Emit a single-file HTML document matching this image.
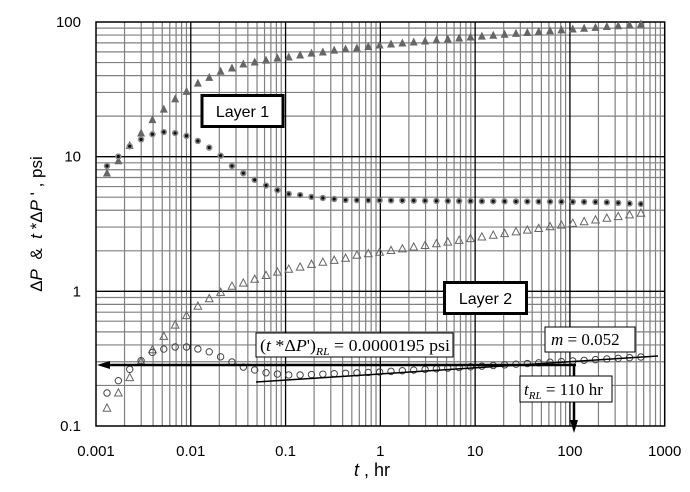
<!DOCTYPE html>
<html><head><meta charset="utf-8"><style>
body{margin:0;background:#fff;width:690px;height:487px;overflow:hidden}
svg text{font-family:"Liberation Sans",Arial,sans-serif}
.tm{font-family:"Liberation Serif","Times New Roman",serif}
</style></head><body>
<svg id="s" width="690" height="487" xmlns="http://www.w3.org/2000/svg"></svg>
<script>
var s=document.getElementById('s'),h='';
var L=96,R=664.7,T=22,B=426,dx=(R-L)/6,dy=(B-T)/3;
function X(v){return L+dx*(Math.log10(v)+3)}
function Y(v){return T+dy*(2-Math.log10(v))}
for(var d=-3;d<3;d++)for(var k=2;k<10;k++){var x=X(k*Math.pow(10,d));h+='<line x1="'+x+'" y1="'+T+'" x2="'+x+'" y2="'+B+'" stroke="#808080" stroke-width="1.2"/>';}
for(var d=-1;d<2;d++)for(var k=2;k<10;k++){var y=Y(k*Math.pow(10,d));h+='<line x1="'+L+'" y1="'+y+'" x2="'+R+'" y2="'+y+'" stroke="#808080" stroke-width="1.2"/>';}
for(var d=-2;d<3;d++){var x=X(Math.pow(10,d));h+='<line x1="'+x+'" y1="'+T+'" x2="'+x+'" y2="'+B+'" stroke="#000" stroke-width="1.3"/>';}
for(var d=0;d<2;d++){var y=Y(Math.pow(10,d));h+='<line x1="'+L+'" y1="'+y+'" x2="'+R+'" y2="'+y+'" stroke="#000" stroke-width="1.3"/>';}
h+='<rect x="'+L+'" y="'+T+'" width="'+(R-L)+'" height="'+(B-T)+'" fill="none" stroke="#000" stroke-width="1.5"/>';
function interp(t,x){for(var i=0;i<t.length-1;i++){if(x<=t[i+1][0]){var a=t[i],b=t[i+1];return a[1]+(b[1]-a[1])*(x-a[0])/(b[0]-a[0]);}}return t[t.length-1][1];}
var A=[[107,173],[119,160],[130,145],[142,132],[153,119],[164,109],[175,99],[187,91],[198,83],[210,77],[221,71],[232,68],[243,64],[255,62],[267,60],[277,58],[289,57],[300,55],[312,53],[323,52],[335,50],[346,49],[357,48],[380,45],[470,37],[560,30],[641,24]];
var Bc=[[107,166],[119,156],[130,146],[142,139],[153,134],[164,132],[175,133],[187,136],[198,141],[210,148],[221,156],[232,166],[243,173],[255,180],[267,186],[277,190],[289,194],[300,195],[312,197],[323,198],[346,200],[450,201],[600,202],[641,204]];
var C=[[107,408],[119,392],[130,377],[142,360],[153,349],[164,336],[175,325],[187,315],[198,306],[210,298],[221,292],[232,286],[243,283],[255,279],[267,275],[277,272],[289,269],[300,267],[312,264],[323,262],[335,260],[346,258],[357,255],[380,252],[641,213]];
var D=[[107,393],[119,380],[130,369],[142,360],[153,352],[164,349],[175,347],[187,347],[198,349],[210,352],[221,357],[232,362],[243,367],[255,370],[267,373],[277,374],[289,375],[300,375],[380,372],[641,357]];
for(var i=0;i<48;i++){var x=107+i*11.36;
 var y=interp(A,x);h+='<polygon points="'+(x-4)+','+(y+3.5)+' '+(x+4)+','+(y+3.5)+' '+x+','+(y-4.5)+'" fill="#666"/>';
 y=interp(Bc,x);h+='<circle cx="'+x+'" cy="'+y+'" r="3.2" fill="#888"/><circle cx="'+x+'" cy="'+y+'" r="1.6" fill="#111"/>';
 y=interp(C,x);h+='<polygon points="'+(x-3.8)+','+(y+3.2)+' '+(x+3.8)+','+(y+3.2)+' '+x+','+(y-4)+'" fill="none" stroke="#666" stroke-width="1"/>';
 y=interp(D,x);h+='<circle cx="'+x+'" cy="'+y+'" r="3.2" fill="none" stroke="#444" stroke-width="1"/>';
}
h+='<line x1="256" y1="382" x2="658" y2="356" stroke="#000" stroke-width="1.5"/>';
h+='<line x1="104" y1="365" x2="576" y2="365" stroke="#000" stroke-width="2.5"/>';
h+='<polygon points="97,365 110,361 110,369" fill="#000"/>';
h+='<line x1="574" y1="365" x2="574" y2="422" stroke="#000" stroke-width="2.5"/>';
h+='<polygon points="574,433 570,420 578,420" fill="#000"/>';
h+='<rect x="202" y="95.5" width="81" height="31" fill="#fff" stroke="#000" stroke-width="3"/><text x="242.5" y="117" font-size="16" text-anchor="middle">Layer 1</text>';
h+='<rect x="444.5" y="282.5" width="82" height="31" fill="#fff" stroke="#000" stroke-width="3"/><text x="485.5" y="304" font-size="16" text-anchor="middle">Layer 2</text>';
h+='<rect x="256" y="333" width="197" height="24" fill="#fff" stroke="#000" stroke-width="1"/><text class="tm" x="260" y="351" font-size="17" textLength="190" lengthAdjust="spacingAndGlyphs">(<tspan font-style="italic">t</tspan> *Δ<tspan font-style="italic">P</tspan>\')<tspan font-size="11" font-style="italic" dy="4">RL</tspan><tspan dy="-4"> = 0.0000195 psi</tspan></text>';
h+='<rect x="545" y="327" width="90" height="25" fill="#fff" stroke="#000" stroke-width="1"/><text class="tm" x="551" y="345" font-size="17"><tspan font-style="italic">m</tspan> = 0.052</text>';
h+='<rect x="520" y="376" width="92" height="26" fill="#fff" stroke="#000" stroke-width="1"/><text class="tm" x="524" y="395" font-size="17"><tspan font-style="italic">t</tspan><tspan font-size="11" font-style="italic" dy="4">RL</tspan><tspan dy="-4"> = 110 hr</tspan></text>';
var yl=[[100,'100'],[10,'10'],[1,'1'],[0.1,'0.1']];
yl.forEach(function(a){h+='<text x="81" y="'+(Y(a[0])+5)+'" font-size="15" text-anchor="end">'+a[1]+'</text>';});
var xl=['0.001','0.01','0.1','1','10','100','1000'];
xl.forEach(function(a,i){h+='<text x="'+(L+dx*i)+'" y="456" font-size="15" text-anchor="middle">'+a+'</text>';});
h+='<text x="372" y="476" font-size="18" text-anchor="middle"><tspan font-style="italic">t</tspan> , hr</text>';
h+='<text transform="translate(42,224) rotate(-90)" font-size="17" text-anchor="middle">Δ<tspan font-style="italic">P</tspan>&#160;&#160;&amp;&#160;&#160;<tspan font-style="italic">t</tspan>&#160;*Δ<tspan font-style="italic">P</tspan>&#160;\'&#160;, psi</text>';
s.innerHTML=h;
</script>
</body></html>
